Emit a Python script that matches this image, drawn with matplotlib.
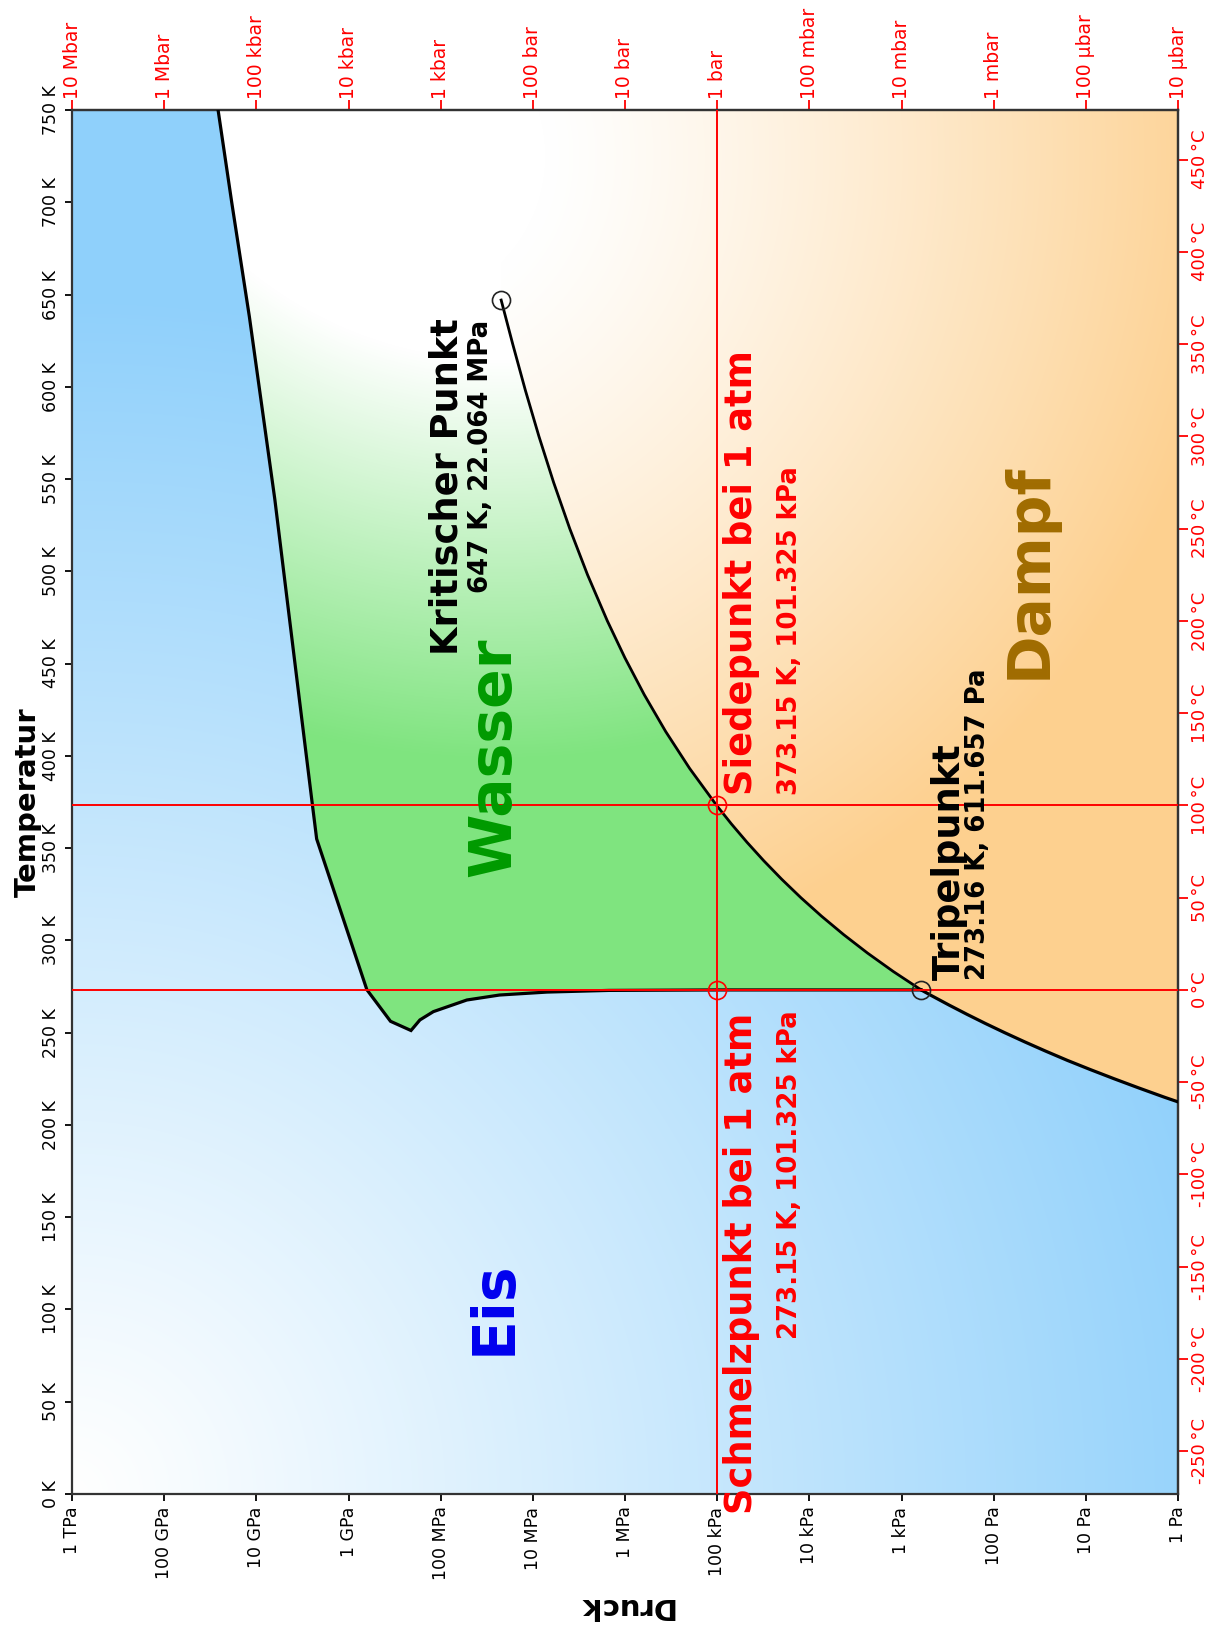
# -*- coding=utf8 -*-
# Phasendiagramm von Wasser (gedreht: Druck nach rechts fallend, Temperatur nach oben)
import numpy as np
import matplotlib.pyplot as plt
from matplotlib.path import Path
from matplotlib.patches import PathPatch
from matplotlib.colors import to_rgb

# Schmelzkurve von 750 K abwaerts bis zum Tripelpunkt (T in K, p in Pa)
melt_T = [750, 700, 638, 539, 430, 376, 355.0, 273.31, 256.16, 251.17,
          256.9, 261.4, 267.7, 270.4, 272.0, 272.9, 273.15, 273.16]
melt_P = [2.6e10, 1.85e10, 1.19e10, 6.3e9, 3.4e9, 2.5e9, 2.216e9, 6.324e8, 3.501e8, 2.099e8,
          1.68e8, 1.2e8, 5.2e7, 2.3e7, 7e6, 1.5e6, 1.01325e5, 611.657]

# Dampfdruckkurve vom Tripelpunkt zum kritischen Punkt
vap_T = [273.16, 283.15, 293.15, 303.15, 313.15, 323.15, 333.15, 343.15, 353.15, 363.15,
         373.15, 393.15, 413.15, 433.15, 453.15, 473.15, 498.15, 523.15, 548.15, 573.15,
         598.15, 623.15, 638.15, 647.0]
vap_P = [611.657, 1228.1, 2339.2, 4246.9, 7384.9, 12352, 19946, 31201, 47414, 70182,
         101325, 198670, 361540, 618230, 1.0028e6, 1.5549e6, 2.5508e6, 3.9762e6, 5.9464e6, 8.5879e6,
         1.2056e7, 1.6529e7, 1.9822e7, 2.2064e7]

# Sublimationskurve vom Tripelpunkt abwaerts
sub_T = [273.16, 270, 265, 260, 255, 250, 245, 240, 235, 230, 225, 220, 215, 212.5]
sub_P = [611.657, 470.1, 305.9, 195.8, 123.2, 76.0, 46.0, 27.3, 15.9, 8.94, 4.92, 2.65, 1.40, 1.0]

triple = (611.657, 273.16)
critical = (22.064e6, 647.0)
atm = 101325.0
T_melt, T_boil = 273.15, 373.15

p_ticks = [1e12, 1e11, 1e10, 1e9, 1e8, 1e7, 1e6, 1e5, 1e4, 1e3, 1e2, 1e1, 1e0]
p_labels = ['1 TPa', '100 GPa', '10 GPa', '1 GPa', '100 MPa', '10 MPa', '1 MPa',
            '100 kPa', '10 kPa', '1 kPa', '100 Pa', '10 Pa', '1 Pa']
bar_labels = ['10 Mbar', '1 Mbar', '100 kbar', '10 kbar', '1 kbar', '100 bar', '10 bar',
              '1 bar', '100 mbar', '10 mbar', '1 mbar', '100 µbar', '10 µbar']
T_ticks = list(range(0, 751, 50))
C_ticks = list(range(-250, 451, 50))

fig = plt.figure(figsize=(12.18, 16.30), dpi=100)
ax = fig.add_axes([72 / 1218, 136 / 1630, 1106 / 1218, 1384 / 1630])
ax.set_xscale('log')
ax.set_xlim(1e12, 1)
ax.set_ylim(0, 750)

W, H = 1106, 1384
xx, yy = np.meshgrid(np.arange(W) + 0.5, np.arange(H) + 0.5)


def radial(c_in, c_out, cx, cy, r0, r1, gamma=1.0):
    r = np.hypot(xx - cx, yy - cy)
    t = np.clip((r - r0) / (r1 - r0), 0, 1) ** gamma
    a, b = np.array(to_rgb(c_in)), np.array(to_rgb(c_out))
    return a * (1 - t[..., None]) + b * t[..., None]


def region(verts, img):
    patch = PathPatch(Path(verts), transform=ax.transData, fc='none', ec='none')
    ax.add_patch(patch)
    im = ax.imshow(img, extent=[0, 1, 0, 1], transform=ax.transAxes,
                   aspect='auto', interpolation='bilinear', zorder=0)
    im.set_clip_path(patch)


melt = list(zip(melt_P, melt_T))
vap = list(zip(vap_P, vap_T))
sub = list(zip(sub_P, sub_T))

ice = [(1e12, 750)] + melt + sub[1:] + [(1, 0), (1e12, 0), (1e12, 750)]
liquid = melt + vap[1:] + [(critical[0], 750), (melt_P[0], 750)]
vapour = [(critical[0], 750)] + vap[::-1] + sub[1:] + [(1, 750), (critical[0], 750)]

region(ice, radial('#ffffff', '#8fd0fb', 0, H, 0, 1200, 1.1))
region(liquid, radial('#ffffff', '#7fe47f', 430, -150, 400, 800, 1.0))
region(vapour, radial('#ffffff', '#fdd08f', 323, 46, 150, 850, 1.2))

ax.plot(melt_P, melt_T, color='black', lw=2.3, zorder=3, solid_joinstyle='miter')
ax.plot(vap_P, vap_T, color='black', lw=2.0, zorder=3)
ax.plot(sub_P, sub_T, color='black', lw=2.3, zorder=3)

# 1 atm und Schmelz-/Siedetemperatur
ax.axvline(atm, color='red', lw=1.4, zorder=4)
ax.axhline(T_melt, color='red', lw=1.4, zorder=4)
ax.axhline(T_boil, color='red', lw=1.4, zorder=4)
ax.plot([atm, atm], [T_melt, T_boil], 'o', ms=13, mfc='none', mec='red', mew=1.2, zorder=5)
ax.plot([triple[0], critical[0]], [triple[1], critical[1]], 'o', ms=13, mfc='none',
        mec='#222222', mew=1.2, zorder=5)

big = dict(fontsize=42, fontweight='bold', rotation=90, ha='center', va='center', zorder=6)
ax.text(2.64e7, 399, 'Wasser', color='#009a00', **big)
ax.text(2.64e7, 101, 'Eis', color='#0000ee', **big)
ax.text(41.4, 500, 'Dampf', color='#a06c00', **big)


def note(s, xy, dx, dy, ha, size, color):
    ax.annotate(s, xy=xy, xytext=(dx, dy), textcoords='offset pixels', rotation=90,
                rotation_mode='anchor', ha=ha, va='center', fontsize=size,
                fontweight='bold', color=color, zorder=6)


note('Siedepunkt bei 1 atm', (atm, T_boil), 25, 10, 'left', 26.5, 'red')
note('373.15 K, 101.325 kPa', (atm, T_boil), 73, 10, 'left', 18.7, 'red')
note('Schmelzpunkt bei 1 atm', (atm, T_melt), 25, -23, 'right', 26.5, 'red')
note('273.15 K, 101.325 kPa', (atm, T_melt), 73, -20, 'right', 18.7, 'red')
note('Tripelpunkt', triple, 28, 10, 'left', 26.5, 'black')
note('273.16 K, 611.657 Pa', triple, 57, 10, 'left', 18.7, 'black')
note('Kritischer Punkt', critical, -54, -18, 'right', 26.5, 'black')
note('647 K, 22.064 MPa', critical, -20, -20, 'right', 18.7, 'black')

# Achsen: Pa unten, bar oben, K links, °C rechts
ax.set_xticks(p_ticks)
ax.set_xticklabels(p_labels, rotation=90, fontsize=12.5)
ax.xaxis.set_minor_locator(plt.NullLocator())
ax.set_yticks(T_ticks)
ax.set_yticklabels(['%d K' % t for t in T_ticks], rotation=90, fontsize=12.5, va='center')
ax.tick_params(direction='out', length=5, width=1.3, pad=4)

top = ax.secondary_xaxis('top')
top.set_xticks(p_ticks)
top.set_xticklabels(bar_labels, rotation=90, fontsize=13.5, color='red')
top.xaxis.set_minor_locator(plt.NullLocator())
top.tick_params(direction='out', length=7, width=1.3, color='red', pad=1)

right = ax.secondary_yaxis('right', functions=(lambda k: k - 273.15, lambda c: c + 273.15))
right.set_yticks(C_ticks)
right.set_yticklabels(['%d\u2009°C' % c for c in C_ticks], rotation=90, fontsize=13,
                      color='red', va='center')
right.tick_params(direction='out', length=7, width=1.3, color='red', pad=2)

for sp in list(ax.spines.values()) + [top.spines['top'], right.spines['right']]:
    sp.set_linewidth(1.6)
    sp.set_color('#333333')

ax.set_ylabel('Temperatur', fontsize=21, fontweight='bold', labelpad=0)
ax.set_xlabel('Druck', fontsize=21, fontweight='bold', rotation=180, labelpad=8)

fig.savefig('out.png', dpi=100)
